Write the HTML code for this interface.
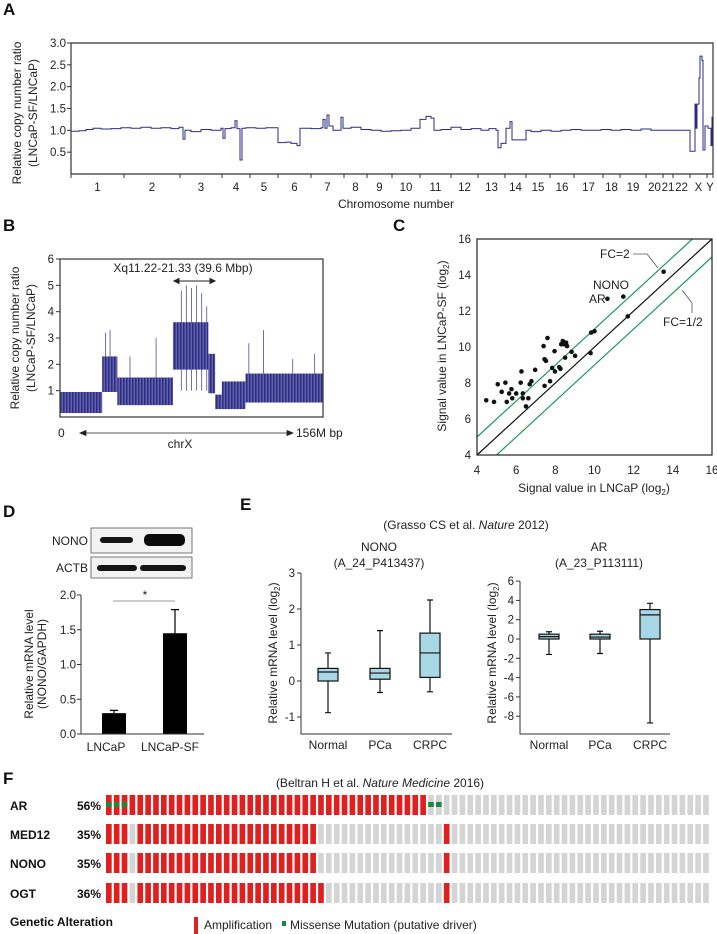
<!DOCTYPE html>
<html><head><meta charset="utf-8">
<style>
html,body{margin:0;padding:0;background:#fff;}
svg{display:block;font-family:"Liberation Sans",Arial,sans-serif;}
.t{font-size:12px;fill:#222;}
.tk{font-size:11.5px;fill:#222;}
.pl{font-size:17px;font-weight:bold;fill:#111;}
.b{font-weight:bold;fill:#111;}
</style></head>
<body>
<svg id="fig" width="717" height="934" viewBox="0 0 717 934" xmlns="http://www.w3.org/2000/svg">
<defs>
<pattern id="noise" patternUnits="userSpaceOnUse" width="3" height="200">
<rect width="3" height="200" fill="#45459a"/>
<rect x="0" width="1" height="200" fill="#2e2e80"/>
<rect x="2" width="1" height="200" fill="#6262aa"/>
</pattern>
</defs>
<text class="pl" x="3" y="15">A</text>
<text class="pl" x="3" y="231">B</text>
<text class="pl" x="393" y="231">C</text>
<text class="pl" x="3" y="517">D</text>
<text class="pl" x="240" y="510">E</text>
<text class="pl" x="3" y="784">F</text>

<g>
<text class="t" transform="translate(21,113) rotate(-90)" text-anchor="middle" font-size="12.5">Relative copy number ratio</text>
<text class="t" transform="translate(37,113) rotate(-90)" text-anchor="middle" font-size="12.5">(LNCaP-SF/LNCaP)</text>
<text class="t" x="396" y="208" text-anchor="middle">Chromosome number</text>
<g id="gA"></g>
</g>

<g>
<text class="t" transform="translate(19,338) rotate(-90)" text-anchor="middle" font-size="12.5">Relative copy number ratio</text>
<text class="t" transform="translate(35,338) rotate(-90)" text-anchor="middle" font-size="12.5">(LNCaP-SF/LNCaP)</text>
<text class="t" x="183" y="272" text-anchor="middle">Xq11.22-21.33 (39.6 Mbp)</text>
<text class="t" x="58" y="437">0</text>
<text class="t" x="296" y="437">156M bp</text>
<text class="t" x="180" y="448" text-anchor="middle">chrX</text>
<g id="gB"></g>
</g>

<g>
<text class="t" transform="translate(446,346) rotate(-90)" text-anchor="middle">Signal value in LNCaP-SF (log<tspan font-size="8" dy="3">2</tspan><tspan dy="-3">)</tspan></text>
<text class="t" x="594" y="492" text-anchor="middle">Signal value in LNCaP (log<tspan font-size="8" dy="3">2</tspan><tspan dy="-3">)</tspan></text>
<text class="t" x="600" y="258">FC=2</text>
<text class="t" x="593" y="289">NONO</text>
<text class="t" x="589" y="303">AR</text>
<text class="t" x="663" y="326">FC=1/2</text>
<polyline points="633,254 647,254 658,268" fill="none" stroke="#555" stroke-width="0.8"/>
<polyline points="692,313 692,303 682,290" fill="none" stroke="#555" stroke-width="0.8"/>
<g id="gC"></g>
</g>

<g>
<rect x="91" y="528" width="101" height="25" fill="#f2f2f2" stroke="#555" stroke-width="0.8"/>
<rect x="91" y="557" width="101" height="21" fill="#f2f2f2" stroke="#555" stroke-width="0.8"/>
<rect x="100" y="537" width="33" height="6" rx="3" fill="#151515"/>
<rect x="144" y="534" width="41" height="12" rx="5" fill="#0a0a0a"/>
<rect x="97" y="565" width="40" height="6" rx="3" fill="#151515"/>
<rect x="140" y="565" width="46" height="6" rx="3" fill="#151515"/>
<text class="t" x="88" y="545" text-anchor="end">NONO</text>
<text class="t" x="88" y="572" text-anchor="end">ACTB</text>
<text class="t" transform="translate(33,664) rotate(-90)" text-anchor="middle" font-size="12.5">Relative mRNA level</text>
<text class="t" transform="translate(46,664) rotate(-90)" text-anchor="middle" font-size="12.5">(NONO/GAPDH)</text>
<text class="t" x="145" y="599" text-anchor="middle">*</text>
<line x1="113" y1="601" x2="175" y2="601" stroke="#777" stroke-width="0.8"/>
<g id="gD"></g>
</g>

<g>
<text class="t" x="466" y="529" text-anchor="middle">(Grasso CS et al. <tspan font-style="italic">Nature</tspan> 2012)</text>
<text class="t" x="379" y="551" text-anchor="middle">NONO</text>
<text class="t" x="379" y="567" text-anchor="middle">(A_24_P413437)</text>
<text class="t" x="599" y="551" text-anchor="middle">AR</text>
<text class="t" x="599" y="567" text-anchor="middle">(A_23_P113111)</text>
<text class="t" transform="translate(277,653) rotate(-90)" text-anchor="middle" font-size="12.5">Relative mRNA level (log<tspan font-size="8" dy="3">2</tspan><tspan dy="-3">)</tspan></text>
<text class="t" transform="translate(496,653) rotate(-90)" text-anchor="middle" font-size="12.5">Relative mRNA level (log<tspan font-size="8" dy="3">2</tspan><tspan dy="-3">)</tspan></text>
<g id="gE"></g>
</g>

<g>
<text class="t" x="380" y="787" text-anchor="middle">(Beltran H et al. <tspan font-style="italic">Nature Medicine</tspan> 2016)</text>
<text class="t b" x="10" y="926">Genetic Alteration</text>
<rect x="194" y="917" width="4" height="17" fill="#e0201f"/>
<text class="t" x="204" y="929">Amplification</text>
<rect x="282" y="921" width="4" height="5" fill="#1a8a3a"/>
<text class="t" x="290" y="929">Missense Mutation (putative driver)</text>
<g id="gF"></g>
</g>
</svg>
<script>
// ---------- DATA ----------
const cnvPos = [0,8,15,22,30,40,50,60,70,80,90,100,108,112,114,120,130,140,150,152,154,160,164,166,169,171,175,185,195,207,215,220,226,229,240,250,252,254,256,258,262,270,272,280,290,300,310,320,330,340,349,355,360,363,370,380,390,400,410,418,425,427,430,435,439,441,455,460,470,480,490,500,510,520,530,540,550,560,570,580,590,600,610,619,624,625,626,628,629,631,632,634,637,640,641,642];
const cnvVal = [0.98,0.99,1.02,1.05,1.03,1.04,1.06,1.05,1.07,1.05,1.06,1.04,1.07,0.8,1.0,0.97,1.02,1.0,1.05,0.82,1.04,1.06,1.22,1.04,0.32,1.05,1.06,1.05,1.06,0.72,0.73,0.7,0.65,1.05,1.04,1.06,1.25,1.05,1.35,1.1,1.0,1.3,1.05,1.07,1.02,1.0,0.98,0.99,1.0,1.05,1.25,1.32,1.28,1.0,1.02,1.07,1.02,1.04,1.0,1.04,1.0,0.6,0.7,1.05,1.2,0.78,1.0,0.97,1.0,0.98,1.0,1.02,1.0,1.0,1.02,1.0,1.02,1.0,1.03,1.0,1.0,1.0,1.0,0.52,1.6,1.05,1.6,2.2,2.7,2.6,0.55,1.1,1.05,0.65,1.3,1.05];
const chromNames = ['1','2','3','4','5','6','7','8','9','10','11','12','13','14','15','16','17','18','19','20','21','22','X','Y'];
const chromBounds = [0,53,109,151,179,207,240,273,296,321,349,380,407,434,455,479,503,532,549,575,592,602,619,636,642];
const aTicks = [0.5,1.0,1.5,2.0,2.5,3.0];

const segStart = [0,25,34,67,88,92,96,110];
const segEnd   = [25,34,67,88,92,96,110,156];
const segLow   = [0.15,0.95,0.45,1.8,0.9,0.3,0.3,0.55];
const segHigh  = [0.95,2.3,1.5,3.6,2.4,0.85,1.35,1.65];
const spikePos = [27,29.7,41.5,57,72,75,78,81,84,87,112,120.7,138,151];
const spikeTop = [3.2,3.3,2.3,3.0,4.8,5.0,4.9,5.0,4.7,4.2,2.8,3.3,2.2,2.4];
const bTicks = [1,2,3,4,5,6];

const lncapX = [4.47,4.87,5.06,5.26,5.45,5.52,5.64,5.76,5.80,6.0,6.23,6.27,6.34,6.34,6.5,6.62,6.69,6.78,6.97,7.4,7.45,7.45,7.52,7.6,7.73,7.84,7.96,7.98,8.2,8.26,8.3,8.38,8.45,8.55,8.5,8.6,8.83,9.01,9.8,9.83,10.0,10.66,11.47,11.7,13.53];
const lncapSfY = [7.04,6.95,7.93,7.51,8.02,6.95,7.42,7.66,7.15,7.42,8.02,8.64,7.42,7.15,6.70,7.15,7.93,8.1,8.73,10.05,7.84,9.32,9.23,10.5,8.1,8.84,9.77,8.64,8.88,8.79,10.15,10.33,10.15,10.24,9.41,10.05,9.73,9.51,9.66,10.8,10.88,12.68,12.8,11.7,14.18];
const cTicks = [4,6,8,10,12,14,16];

const dCats = ['LNCaP','LNCaP-SF'];
const dVals = [0.30,1.45];
const dErr = [0.04,0.34];
const dTicks = [0.0,0.5,1.0,1.5,2.0];

const eCats = ['Normal','PCa','CRPC'];
const nonoMin = [-0.88,-0.32,-0.30];
const nonoQ1 = [0.0,0.05,0.10];
const nonoMed = [0.25,0.22,0.78];
const nonoQ3 = [0.35,0.35,1.33];
const nonoMax = [0.78,1.40,2.25];
const nonoTicks = [-1,0,1,2,3];
const arMin = [-1.6,-1.5,-8.7];
const arQ1 = [0,0,0];
const arMed = [0.25,0.2,2.5];
const arQ3 = [0.5,0.5,3.05];
const arMax = [0.75,0.8,3.7];
const arTicks = [-8,-6,-4,-2,0,2,4,6];

const fGenes = ['AR','MED12','NONO','OGT'];
const fPct = ['56%','35%','35%','36%'];
const nSamples = 77;
const arAmp = [[0,40]];
const med12Amp = [[0,2],[4,26],[43,43]];
const nonoAmp = [[0,2],[4,26],[43,43]];
const ogtAmp = [[0,2],[4,27],[43,43]];
const arMissense = [0,1,2,41,42];

// ---------- DRAW ----------
const NS='http://www.w3.org/2000/svg';
function mk(tag,attrs,parent){const e=document.createElementNS(NS,tag);for(const k in attrs)e.setAttribute(k,attrs[k]);parent.appendChild(e);return e;}
function tx(parent,x,y,s,anchor,cls){const e=mk('text',{x:x,y:y,'text-anchor':anchor||'start','class':cls||'tk'},parent);e.textContent=s;return e;}

(function(){
  const g=document.getElementById('gA');
  const x0=71,x1=713,yTop=43,yBot=174;
  const xA=u=>x0+(u-chromBounds[0])/(chromBounds[chromBounds.length-1]-chromBounds[0])*(x1-x0);
  const yA=v=>yBot-(v/3.0)*(yBot-yTop);
  let e=mk('path',{d:`M${x0},${yBot}V${yTop}H${x1}V${yBot}H${x0}`,fill:'none',stroke:'#333','stroke-width':1.2},g);
  
  
  aTicks.forEach(v=>{
    const t=mk('line',{x1:x0-4,x2:x0,y1:yA(v),y2:yA(v),stroke:'#333'},g);
    
    
    const l=tx(g,x0-5,yA(v)+4,v.toFixed(1),'end');
    
    
  });
  chromBounds.forEach(b=>{
    const t=mk('line',{x1:xA(b),x2:xA(b),y1:yBot,y2:yBot+4,stroke:'#333'},g);
    
    
  });
  chromNames.forEach((n,i)=>{
    const l=tx(g,(xA(chromBounds[i])+xA(chromBounds[i+1]))/2,191,n,'middle');
    if(n.length>1&&i>=19&&i<=21)l.setAttribute('font-size','10');
    
    
  });
  let d='';
  for(let i=0;i<cnvPos.length-1;i++){
    d+=(i?'L':'M')+xA(cnvPos[i]).toFixed(1)+','+yA(cnvVal[i]).toFixed(1)+'H'+xA(cnvPos[i+1]).toFixed(1);
  }
  const p=mk('path',{d:d,fill:'none',stroke:'#2b2b86','stroke-width':1},g);
  
  
})();

(function(){
  const g=document.getElementById('gB');
  const x0=60,x1=323,yTop=259,yBot=417;
  const xB=m=>x0+m/156*(x1-x0);
  const yB=v=>yBot-v/6*(yBot-yTop);
  spikePos.forEach((s,i)=>{
    const l=mk('line',{x1:xB(s),x2:xB(s),y1:yB(1),y2:yB(spikeTop[i]),stroke:'#7070a8','stroke-width':1},g);
    
    
  });
  segStart.forEach((s,i)=>{
    const r=mk('rect',{x:xB(s),y:yB(segHigh[i]),width:xB(segEnd[i])-xB(s),height:yB(segLow[i])-yB(segHigh[i]),fill:'url(#noise)'},g);
    
    
  });
  const f=mk('rect',{x:x0,y:yTop,width:x1-x0,height:yBot-yTop,fill:'none',stroke:'#333','stroke-width':1.2},g);
  
  
  bTicks.forEach(v=>{
    const t=mk('line',{x1:x0-4,x2:x0,y1:yB(v),y2:yB(v),stroke:'#333'},g);
    
    
    const l=tx(g,x0-6,yB(v)+4,String(v),'end');
    
    
  });
  const a=mk('path',{d:'M174,281H215M174,281l5,-2.5v5zM215,281l-5,-2.5v5z',stroke:'#222',fill:'#222','stroke-width':1},g);
  
  
  const a2=mk('path',{d:'M80,433H293M80,433l6,-2.5v5zM293,433l-6,-2.5v5z',stroke:'#222',fill:'#222','stroke-width':0.8},g);
  
  
})();

(function(){
  const g=document.getElementById('gC');
  const x0=477,x1=712,yTop=239,yBot=455;
  const xC=v=>x0+(v-4)/12*(x1-x0);
  const yC=v=>yBot-(v-4)/12*(yBot-yTop);
  const lines=[[4,4,16,16,'#111','identity-line'],[4,5,15,16,'#1d9a5a','fc2-line'],[5,4,16,15,'#1d9a5a','fc-half-line']];
  lines.forEach(L=>{
    const l=mk('line',{x1:xC(L[0]),y1:yC(L[1]),x2:xC(L[2]),y2:yC(L[3]),stroke:L[4],'stroke-width':1.2},g);
    
    
  });
  const f=mk('rect',{x:x0,y:yTop,width:x1-x0,height:yBot-yTop,fill:'none',stroke:'#222','stroke-width':1.2},g);
  
  
  cTicks.forEach(v=>{
    const l=tx(g,xC(v),474,String(v),'middle');
    
    
    const l2=tx(g,x0-6,yC(v)+4,String(v),'end');
    
    
  });
  lncapX.forEach((v,i)=>{
    const c=mk('circle',{cx:xC(v),cy:yC(lncapSfY[i]),r:2.3,fill:'#111'},g);
    
    
  });
})();

(function(){
  const g=document.getElementById('gD');
  const x0=81,x1=204,yBot=734,yTop=595;
  const yD=v=>yBot-v/2*(yBot-yTop);
  const cx=[114,175];
  dVals.forEach((v,i)=>{
    const r=mk('rect',{x:cx[i]-12,y:yD(v),width:24,height:yBot-yD(v),fill:'#000'},g);
    
    
    const e=mk('path',{d:`M${cx[i]},${yD(v)}V${yD(v+dErr[i])}M${cx[i]-4},${yD(v+dErr[i])}H${cx[i]+4}`,stroke:'#000','stroke-width':1.2,fill:'none'},g);
    
    
    const l=tx(g,cx[i]-(i?5:8),751,dCats[i],'middle','t');
    
    
  });
  const ax=mk('path',{d:`M${x0},${yTop}V${yBot}H${x1}`,fill:'none',stroke:'#333','stroke-width':1},g);
  
  
  dTicks.forEach(v=>{
    const t=mk('line',{x1:x0-4,x2:x0,y1:yD(v),y2:yD(v),stroke:'#333'},g);
    
    
    const l=tx(g,x0-5,yD(v)+4,v.toFixed(1),'end');
    
    
  });
})();

function boxChart(g,x0,x1,cx,yTopV,yBotPx,yFn,ticks,mn,q1,md,q3,mx,prefix){
  const ax=mk('path',{d:`M${x0},${yFn(yTopV)}V${yBotPx}H${x1}`,fill:'none',stroke:'#333','stroke-width':1},g);
  
  
  ticks.forEach(v=>{
    const t=mk('line',{x1:x0-4,x2:x0,y1:yFn(v),y2:yFn(v),stroke:'#333'},g);
    
    
    const l=tx(g,x0-6,yFn(v)+4,String(v),'end');
    
    
  });
  eCats.forEach((c,i)=>{
    const x=cx[i];
    const w=mk('path',{d:`M${x},${yFn(mn[i])}V${yFn(mx[i])}M${x-3},${yFn(mn[i])}H${x+3}M${x-3},${yFn(mx[i])}H${x+3}`,stroke:'#111','stroke-width':1.2,fill:'none'},g);
    
    
    const b=mk('rect',{x:x-10,y:yFn(q3[i]),width:20,height:Math.max(1,yFn(q1[i])-yFn(q3[i])),fill:'#a8d8e6',stroke:'#111','stroke-width':1.2},g);
    
    
    const m=mk('line',{x1:x-10,x2:x+10,y1:yFn(md[i]),y2:yFn(md[i]),stroke:'#111','stroke-width':1.2},g);
    
    
    const l=tx(g,x,749,c,'middle','t');
    
    
  });
}
(function(){
  const g=document.getElementById('gE');
  boxChart(g,301,452,[328,380,430],3,734,v=>681-36*v,nonoTicks,nonoMin,nonoQ1,nonoMed,nonoQ3,nonoMax,'nono');
  boxChart(g,520,670,[549,600,650],6,734,v=>639-9.65*v,arTicks,arMin,arQ1,arMed,arQ3,arMax,'ar');
})();

(function(){
  const g=document.getElementById('gF');
  const x0=106,x1=711,pitch=(x1-x0)/nSamples,bw=pitch*0.72;
  const rowY=[795,824,853,883],rowH=20;
  const amps=[arAmp,med12Amp,nonoAmp,ogtAmp];
  fGenes.forEach((gn,r)=>{
    const l=tx(g,10,rowY[r]+15,gn,'start','t b');
    l.setAttribute('font-size','13');
    
    
    const p=tx(g,101,rowY[r]+15,fPct[r],'end','t b');
    p.setAttribute('font-size','13');
    
    
    for(let s=0;s<nSamples;s++){
      const amp=amps[r].some(a=>s>=a[0]&&s<=a[1]);
      const c=mk('rect',{x:(x0+s*pitch).toFixed(2),y:rowY[r],width:bw.toFixed(2),height:rowH,fill:amp?'#e0201f':'#d4d4d4'},g);
      
      
    }
  });
  arMissense.forEach(s=>{
    const m=mk('rect',{x:(x0+s*pitch).toFixed(2),y:rowY[0]+7,width:bw.toFixed(2),height:5,fill:'#1a8a3a'},g);
    
    
  });
})();
</script>
</body></html>
